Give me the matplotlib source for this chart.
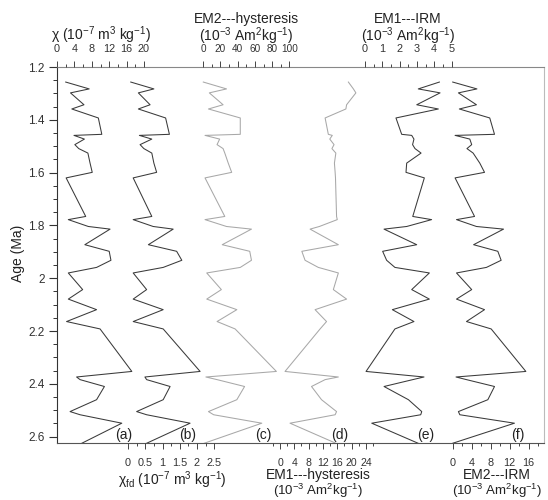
import matplotlib
matplotlib.use('Agg')
import matplotlib.pyplot as plt
import numpy as np

plt.rcParams['font.family'] = ['Liberation Sans', 'DejaVu Sans']
plt.rcParams['mathtext.fontset'] = 'custom'
plt.rcParams['mathtext.rm'] = 'Liberation Sans'
plt.rcParams['mathtext.it'] = 'Liberation Sans:italic'
plt.rcParams['mathtext.bf'] = 'Liberation Sans:bold'

# ---------------- data ----------------
ages = [1.257, 1.283, 1.298, 1.343, 1.359, 1.393, 1.455, 1.459, 1.473, 1.494,
        1.509, 1.526, 1.564, 1.599, 1.620, 1.766, 1.778, 1.804, 1.814, 1.873,
        1.898, 1.932, 1.959, 1.980, 2.043, 2.079, 2.119, 2.164, 2.192, 2.353,
        2.374, 2.384, 2.410, 2.460, 2.505, 2.517, 2.549, 2.625]

chi = [2.0, 7.4, 3.1, 6.2, 3.4, 9.5, 10.3, 3.9, 6.3, 4.1, 5.0, 7.1, 7.6, 8.1, 2.1,
       6.6, 2.6, 7.2, 12.2, 6.4, 12.0, 12.4, 9.1, 2.6, 5.9, 2.6, 9.1, 2.2, 9.9, 17.2,
       4.5, 5.3, 10.9, 9.1, 3.0, 5.3, 14.9, 5.7]

chifd = [0.08, 0.75, 0.30, 0.64, 0.30, 1.09, 1.20, 0.33, 0.69, 0.35, 0.46, 0.69,
         0.75, 0.83, 0.15, 0.69, 0.15, 0.73, 1.31, 0.59, 1.41, 1.56, 1.02, 0.15,
         0.54, 0.15, 1.02, 0.15, 1.02, 2.09, 0.49, 0.54, 1.22, 1.02, 0.25, 0.54,
         1.80, 0.54]

em2_hyst = [0, 27, 7, 23, 6, 43, 43, 2, 19, 16, 23, 25, 29, 33, 2, 25, 2, 27, 56, 22,
            54, 56, 43, 4, 21, 4, 39, 16, 37, 85, 3, 16, 48, 39, 6, 12, 68, 1]

em1_hyst = [19.1, 20.5, 21.2, 18.6, 18.4, 12.6, 13.5, 14.6, 13.9, 15.1, 14.5, 15.6,
            15.2, 15.4, 15.5, 15.8, 16.0, 11.0, 8.4, 16.3, 6.1, 7.0, 10.7, 16.3,
            14.9, 18.6, 9.8, 13.0, 11.2, 1.4, 16.3, 12.6, 8.8, 11.6, 15.8, 15.4,
            2.8, 15.6]

em1_irm = [4.30, 3.08, 4.34, 2.99, 4.24, 1.79, 2.12, 2.70, 2.83, 2.75, 2.89, 3.24,
           2.41, 2.37, 3.43, 2.76, 3.85, 2.41, 1.10, 2.99, 1.02, 1.25, 1.73, 3.72,
           2.70, 3.72, 1.58, 2.83, 1.73, 0.06, 3.41, 2.76, 1.10, 2.51, 3.28, 3.22,
           0.39, 3.07]

em2_irm = [0.0, 5.1, 1.2, 5.0, 1.4, 7.8, 8.8, 0.5, 3.6, 4.0, 3.0, 4.3, 5.7, 6.7, 0.5,
           4.6, 0.8, 5.0, 10.7, 4.4, 9.5, 10.2, 7.1, 0.8, 4.0, 0.8, 6.7, 2.9, 8.1, 15.4,
           0.7, 2.9, 8.8, 7.4, 1.2, 1.5, 13.0, 0.0]

age_major = [1.2, 1.4, 1.6, 1.8, 2.0, 2.2, 2.4, 2.6]
age_labels = ['1.2', '1.4', '1.6', '1.8', '2', '2.2', '2.4', '2.6']

chi_ticks = [0, 4, 8, 12, 16, 20]
chifd_ticks = [0, 0.5, 1, 1.5, 2, 2.5]
chifd_labels = ['0', '0.5', '1', '1.5', '2', '2.5']
em2h_ticks = [0, 20, 40, 60, 80, 100]
em1h_ticks = [0, 4, 8, 12, 16, 20, 24]
em1i_ticks = [0, 1, 2, 3, 4, 5]
em2i_ticks = [0, 4, 8, 12, 16]

panel_letters = ['(a)', '(b)', '(c)', '(d)', '(e)', '(f)']

# ---------------- layout ----------------
W, H = 548, 500
fig = plt.figure(figsize=(W / 100, H / 100), dpi=100)


def fx(px):
    return px / W


def fy(py):
    return 1 - py / H


L, R, T, B = 57, 544, 67, 443
YTOP, YBOT = 1.2, 2.624
pos = [fx(L), fy(B), fx(R) - fx(L), fy(T) - fy(B)]

ax = fig.add_axes(pos)
ax.set_ylim(YBOT, YTOP)
ax.set_xlim(0, 1)
ax.set_xticks([])
ax.set_yticks(age_major)
ax.set_yticklabels(age_labels)
ax.set_yticks(np.arange(1.2, 2.6251, 0.05), minor=True)
ax.tick_params(axis='y', which='major', direction='out', length=6, width=0.8,
               labelsize=8.5, pad=3, color='#333333', labelcolor='#333333')
ax.tick_params(axis='y', which='minor', direction='out', length=3, width=0.7,
               color='#333333')
ax.spines['left'].set_color('#333333')
ax.spines['bottom'].set_color('#555555')
ax.spines['top'].set_color('#888888')
ax.spines['right'].set_color('#bbbbbb')
for s in ax.spines.values():
    s.set_linewidth(0.8)

dark = '#3a3a3a'
light = '#a8a8a8'

panels = [
    # values, pixel of zero, px per unit, side, majors, minors, labels, color, label size
    (chi, 57, 4.35, 'top', chi_ticks, np.arange(0, 21, 2), None, dark, 7.8),
    (chifd, 128, 34.5, 'bottom', chifd_ticks, np.arange(0, 2.51, 0.25), chifd_labels, dark, 7.8),
    (em2_hyst, 203.3, 0.86, 'top', em2h_ticks, np.arange(0, 101, 10), None, light, 7.2),
    (em1_hyst, 280, 3.58, 'bottom', em1h_ticks, np.arange(-2, 27, 2), None, light, 7.6),
    (em1_irm, 365, 17.3, 'top', em1i_ticks, np.arange(0, 5.01, 0.5), None, dark, 7.8),
    (em2_irm, 452.7, 4.75, 'bottom', em2i_ticks, np.arange(0, 19, 2), None, dark, 7.8),
]

for vals, p0, sc, side, majors, minors, labels, col, lsz in panels:
    a2 = fig.add_axes(pos, frameon=False)
    a2.patch.set_alpha(0)
    a2.set_xlim((L - p0) / sc, (R - p0) / sc)
    a2.set_ylim(YBOT, YTOP)
    a2.plot(vals, ages, color=col, lw=0.75)
    a2.set_yticks([])
    if side == 'top':
        a2.xaxis.tick_top()
        pad = 5
    else:
        a2.xaxis.tick_bottom()
        pad = 6.5
    a2.set_xticks(majors)
    a2.set_xticklabels(labels if labels is not None else [str(m) for m in majors])
    a2.set_xticks(minors, minor=True)
    a2.tick_params(axis='x', which='major', direction='out', length=4, width=0.7,
                   pad=pad, labelsize=lsz, color='#444444', labelcolor='#333333')
    a2.tick_params(axis='x', which='minor', direction='out', length=2, width=0.7,
                   color='#444444')

# panel letters
letter_x = [124, 188, 263, 340, 426, 518]
for lx, lt in zip(letter_x, panel_letters):
    fig.text(fx(lx), fy(435), lt, ha='center', va='center', fontsize=10, color='#222222')

tc = '#222222'
unit = '(10$^{-3}$ Am$^{2}$kg$^{-1}$)'
fig.text(fx(101), fy(35), 'χ (10$^{-7}$ m$^{3}$ kg$^{-1}$)', ha='center', va='center',
         fontsize=10, color=tc)
fig.text(fx(246), fy(19), 'EM2---hysteresis', ha='center', va='center', fontsize=10, color=tc)
fig.text(fx(246), fy(36), unit, ha='center', va='center', fontsize=10, color=tc)
fig.text(fx(408), fy(19), 'EM1---IRM', ha='center', va='center', fontsize=10, color=tc)
fig.text(fx(408), fy(36), unit, ha='center', va='center', fontsize=10, color=tc)

fig.text(fx(172), fy(480), 'χ$_{\\rm fd}$ (10$^{-7}$ m$^{3}$ kg$^{-1}$)', ha='center',
         va='center', fontsize=10, color=tc)
fig.text(fx(318), fy(475), 'EM1---hysteresis', ha='center', va='center', fontsize=10, color=tc)
fig.text(fx(318), fy(491), unit, ha='center', va='center', fontsize=9.5, color=tc)
fig.text(fx(497), fy(475), 'EM2---IRM', ha='center', va='center', fontsize=10, color=tc)
fig.text(fx(497), fy(491), unit, ha='center', va='center', fontsize=9.5, color=tc)

fig.text(fx(18), fy(253), 'Age (Ma)', ha='center', va='center', rotation=90,
         fontsize=10, color=tc)

fig.savefig('out.png', dpi=100)
